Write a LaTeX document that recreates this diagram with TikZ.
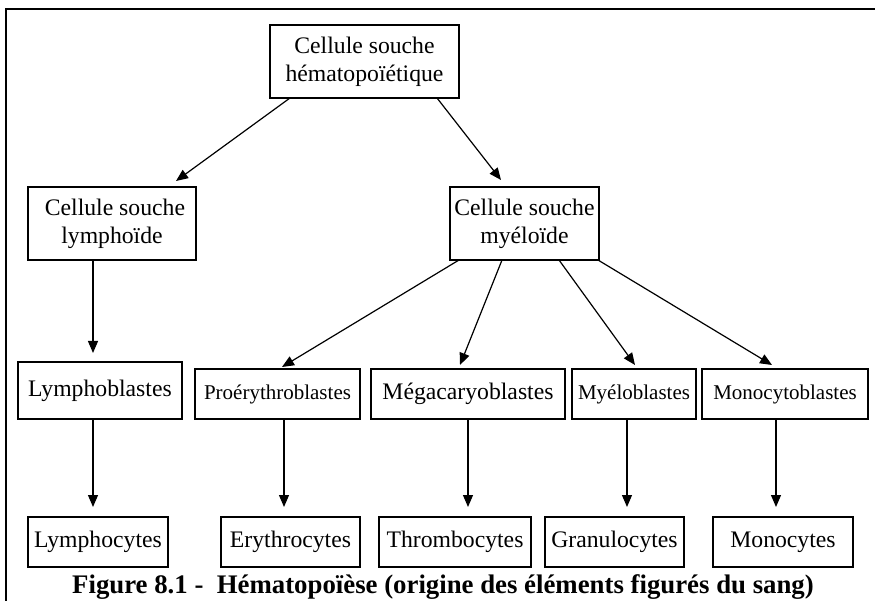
\documentclass[tikz,border=0pt]{standalone}
\usepackage{fontspec}
\setmainfont{Liberation Serif}
\usetikzlibrary{arrows.meta,calc}
\tikzset{
  box/.style={draw, line width=2.2pt, inner sep=0pt, outer sep=0pt, align=center,
    font=\fontsize{23.7}{28}\selectfont},
  smallbox/.style={box, font=\fontsize{21}{25}\selectfont},
  arr/.style={line width=1.2pt, -{Triangle[length=12pt,width=10pt]}}
}
\begin{document}
\begin{tikzpicture}[x=1pt,y=-1pt]
\useasboundingbox (0,0) rectangle (875,601);
\begin{scope}
\clip (0,0) rectangle (875,601);
\draw[line width=2pt] (6,9) rectangle (890,620);
\end{scope}
% nodes
\node[box, minimum width=189, minimum height=73] (hsc) at (364.5,61.5) {Cellule souche\\hématopoïétique};
\node[box, minimum width=168, minimum height=73] (lym) at (112,223.5) {\ Cellule souche\\lymphoïde};
\node[box, minimum width=149, minimum height=73] (mye) at (524.5,223.5) {Cellule souche\\myéloïde};
\node[box, minimum width=164, minimum height=57] (lb) at (100,390.5) {Lymphoblastes};
\node[smallbox, minimum width=165, minimum height=50] (pro) at (277.5,394) {Proérythroblastes};
\node[box, minimum width=194, minimum height=50] (meg) at (468,394) {Mégacaryoblastes};
\node[smallbox, minimum width=124, minimum height=50] (myb) at (634,394) {Myéloblastes};
\node[smallbox, minimum width=166, minimum height=50] (mon) at (785,394) {Monocytoblastes};
\node[box, minimum width=140, minimum height=50] (lc) at (98,542) {Lymphocytes};
\node[box, minimum width=139, minimum height=50] (ery) at (290.5,542) {Erythrocytes};
\node[box, minimum width=152, minimum height=50] (thr) at (455,542) {Thrombocytes};
\node[box, minimum width=139, minimum height=50] (gra) at (614.5,542) {Granulocytes};
\node[box, minimum width=140, minimum height=50] (mcy) at (783,542) {Monocytes};
\node[anchor=base, inner sep=0pt, font=\fontsize{26.8}{30}\selectfont\bfseries] (cap) at (443,593)
  {Figure 8.1 - \ Hématopoïèse (origine des éléments figurés du sang)};
% connectors
\draw[arr] ($(hsc.south west)+(20,0)$) -- ($(lym.north)+(64,-6)$);
\draw[arr] ($(hsc.south east)+(-22,0)$) -- ($(mye.north)+(-23.5,-7)$);
\draw[arr] ($(lym.south west)+(65,0)$) -- ($(lb.north west)+(75,-9)$);
\draw[arr] ($(mye.south west)+(9,0)$) -- ($(pro.north)+(4.5,-2)$);
\draw[arr] ($(mye.south west)+(52,0)$) -- ($(meg.north)+(-8,-4)$);
\draw[arr] ($(mye.south west)+(109,0)$) -- ($(myb.north)+(1,-4)$);
\draw[arr] ($(mye.south east)+(-1,0)$) -- ($(mon.north)+(-13,-4)$);
\draw[arr] ($(lb.south west)+(75,0)$) -- ($(lc.north west)+(65,-10)$);
\draw[arr] ($(pro.south west)+(89,0)$) -- ($(ery.north west)+(63,-10)$);
\draw[arr] (meg.south) -- ($(thr.north west)+(89,-10)$);
\draw[arr] ($(myb.south west)+(55,0)$) -- ($(gra.north west)+(82,-10)$);
\draw[arr] ($(mon.south west)+(74,0)$) -- ($(mcy.north west)+(63,-10)$);
\end{tikzpicture}
\end{document}
